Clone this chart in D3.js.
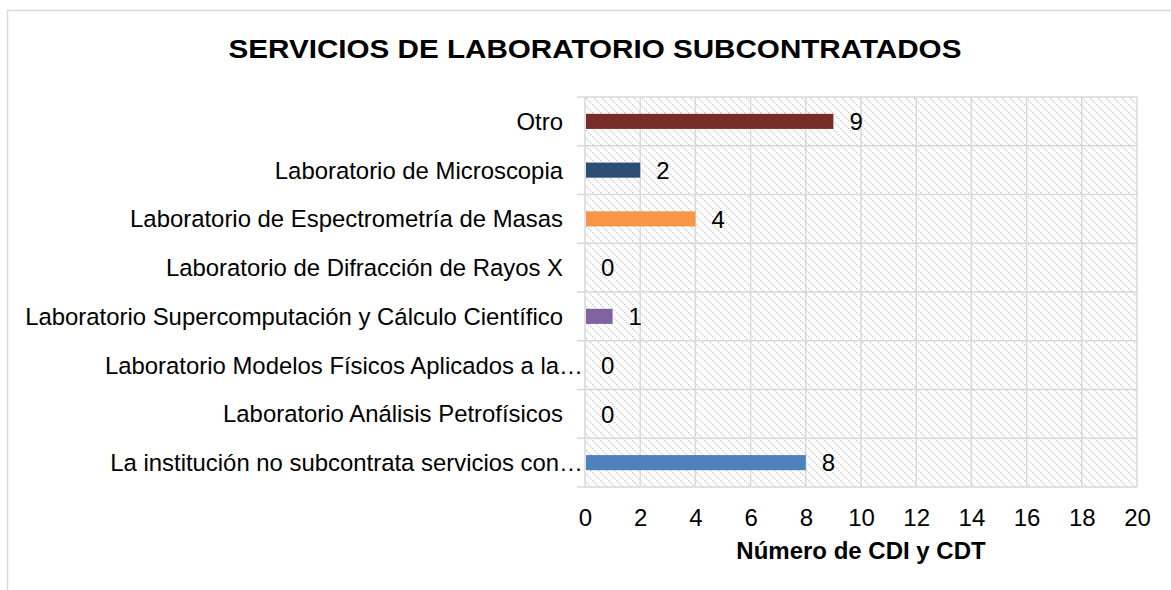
<!DOCTYPE html>
<html>
<head>
<meta charset="utf-8">
<script src="https://cdn.jsdelivr.net/npm/d3@7"></script>
<style>
  body { margin: 0; background: #fff; }
  text { font-family: "Liberation Sans", Arial, sans-serif; fill: #000; }
</style>
</head>
<body>
<div id="wrapper"></div>
<script>
// datos del grafico (de abajo hacia arriba en la imagen)
const categories = [
  "La institución no subcontrata servicios con…",
  "Laboratorio Análisis Petrofísicos",
  "Laboratorio Modelos Físicos Aplicados a la…",
  "Laboratorio Supercomputación y Cálculo Científico",
  "Laboratorio de Difracción de Rayos X",
  "Laboratorio de Espectrometría de Masas",
  "Laboratorio de Microscopia",
  "Otro"
];
const values = [8, 0, 0, 1, 0, 4, 2, 9];
const colors = ["#4F81BD", "#4F81BD", "#4F81BD", "#8064A2", "#4F81BD", "#F79646", "#2C4D75", "#772C2A"];
const xTicks = [0, 2, 4, 6, 8, 10, 12, 14, 16, 18, 20];

const width = 1171;
const height = 590;
const margin = { top: 97, right: 34, bottom: 103, left: 585 };

const svg = d3.select("#wrapper")
  .append("svg")
  .attr("width", width)
  .attr("height", height);

// patron punteado diagonal del area de grafico
const defs = svg.append("defs");
const pat = defs.append("pattern")
  .attr("id", "hatch")
  .attr("patternUnits", "userSpaceOnUse")
  .attr("width", 8)
  .attr("height", 8);
pat.selectAll("rect")
  .data([0, 2, 4, 6])
  .join("rect")
    .attr("x", d => d).attr("y", d => d)
    .attr("width", 1.4).attr("height", 1.4)
    .attr("fill", "#c8c8c8");

// borde exterior
svg.append("rect")
  .attr("x", 7.5).attr("y", 10.5)
  .attr("width", 1300).attr("height", 700)
  .attr("fill", "none")
  .attr("stroke", "#d9d9d9")
  .attr("stroke-width", 1.5);

const x = d3.scaleLinear()
  .domain([0, 20])
  .range([margin.left, width - margin.right]);

const y = d3.scaleBand()
  .domain(d3.range(categories.length))
  .range([height - margin.bottom, margin.top])
  .paddingInner(0.69)
  .paddingOuter(0.345);

const band = d3.scaleBand()
  .domain(d3.range(categories.length))
  .range([height - margin.bottom, margin.top]);

// fondo punteado
svg.append("rect")
  .attr("x", x(0)).attr("y", margin.top)
  .attr("width", x(20) - x(0))
  .attr("height", height - margin.bottom - margin.top)
  .attr("fill", "url(#hatch)");

// lineas de cuadricula verticales
svg.append("g")
  .selectAll("line")
  .data(xTicks)
  .join("line")
    .attr("x1", d => x(d)).attr("x2", d => x(d))
    .attr("y1", margin.top).attr("y2", height - margin.bottom)
    .attr("stroke", "#d9d9d9")
    .attr("stroke-width", 1.5);

// separadores de categorias (con marca hacia la izquierda)
const seps = d3.range(categories.length + 1).map(i =>
  i < categories.length ? band(i) + band.bandwidth() : band(i - 1));
svg.append("g")
  .selectAll("line")
  .data(seps)
  .join("line")
    .attr("x1", x(0) - 8).attr("x2", x(20))
    .attr("y1", d => d).attr("y2", d => d)
    .attr("stroke", "#d9d9d9")
    .attr("stroke-width", 1.5);

// barras
svg.append("g")
  .selectAll("rect")
  .data(values)
  .join("rect")
    .attr("x", x(0) + 1)
    .attr("y", (d, i) => y(i))
    .attr("width", d => Math.max(0, x(d) - x(0) - 1))
    .attr("height", y.bandwidth())
    .attr("fill", (d, i) => colors[i]);

// etiquetas de valor
svg.append("g")
  .selectAll("text")
  .data(values)
  .join("text")
    .attr("x", d => x(d) + 16)
    .attr("y", (d, i) => y(i) + y.bandwidth() / 2)
    .attr("dy", "0.36em")
    .attr("font-size", 24)
    .text(d => d);

// etiquetas de categoria (las recortadas llegan hasta el eje)
svg.append("g")
  .selectAll("text")
  .data(categories)
  .join("text")
    .attr("x", d => d.endsWith("…") ? x(0) - 2 : x(0) - 22)
    .attr("y", (d, i) => band(i) + band.bandwidth() / 2)
    .attr("dy", "0.36em")
    .attr("text-anchor", "end")
    .attr("font-size", 23.9)
    .text(d => d);

// eje x
const xAxis = g => {
  g.attr("transform", `translate(0, ${height - margin.bottom})`)
    .call(d3.axisBottom(x).tickValues(xTicks).tickSize(0).tickPadding(22).tickFormat(d3.format("d")))
    .call(g => g.select(".domain").remove())
    .selectAll("text")
      .attr("font-size", 24)
      .attr("font-family", "Liberation Sans, Arial, sans-serif")
      .attr("fill", "#000");
};
svg.append("g").call(xAxis);

// titulo del eje
svg.append("text")
  .attr("x", (x(0) + x(20)) / 2)
  .attr("y", 559)
  .attr("text-anchor", "middle")
  .attr("font-size", 24)
  .attr("font-weight", "bold")
  .text("Número de CDI y CDT");

// titulo
svg.append("text")
  .attr("transform", "translate(595, 58) scale(1.14, 1)")
  .attr("text-anchor", "middle")
  .attr("font-size", 26)
  .attr("font-weight", "bold")
  .text("SERVICIOS DE LABORATORIO SUBCONTRATADOS");
</script>
</body>
</html>
